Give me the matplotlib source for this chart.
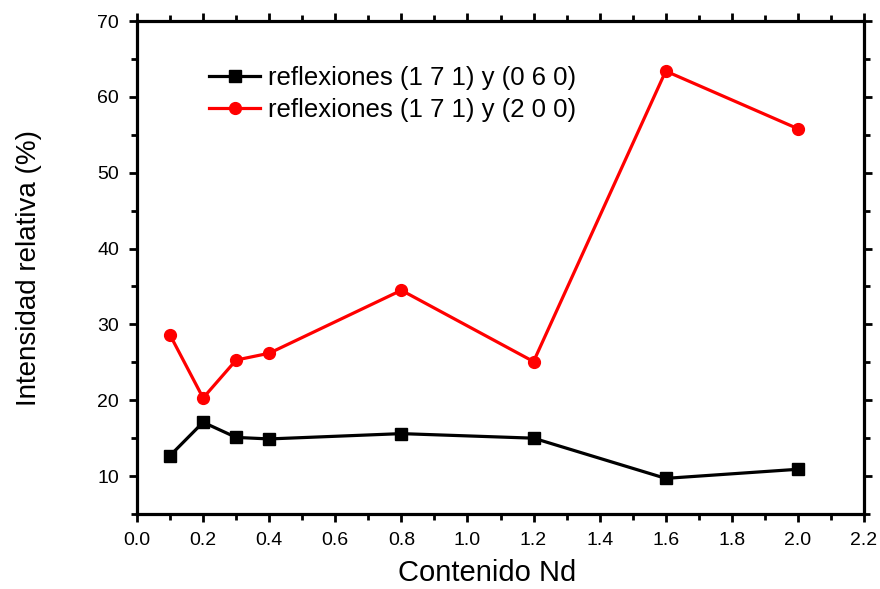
import matplotlib
matplotlib.use("Agg")
import matplotlib.pyplot as plt
from matplotlib.ticker import MultipleLocator

plt.rcParams['font.family'] = ['Liberation Sans', 'DejaVu Sans']

# contenido de Nd
nd = [0.1, 0.2, 0.3, 0.4, 0.8, 1.2, 1.6, 2.0]
# intensidad relativa (%)
i_060 = [12.7, 17.1, 15.1, 14.9, 15.6, 15.0, 9.7, 10.9]
i_200 = [28.6, 20.3, 25.3, 26.2, 34.5, 25.1, 63.4, 55.8]

lab_060 = "reflexiones (1 7 1) y (0 6 0)"
lab_200 = "reflexiones (1 7 1) y (2 0 0)"

fig = plt.figure(figsize=(8.8, 5.89), dpi=100)
ax = fig.add_axes([0.1557, 0.1273, 0.8261, 0.837])

ax.plot(nd, i_060, color='black', lw=2.3, marker='s', ms=8, label=lab_060)
ax.plot(nd, i_200, color='red', lw=2.3, marker='o', ms=8.5, label=lab_200)

ax.set_xlim(0, 2.2)
ax.set_ylim(5, 70)
ax.xaxis.set_major_locator(MultipleLocator(0.2))
ax.xaxis.set_minor_locator(MultipleLocator(0.1))
ax.yaxis.set_minor_locator(MultipleLocator(5))
ax.set_yticks([10, 20, 30, 40, 50, 60, 70])

for s in ax.spines.values():
    s.set_linewidth(2.3)
ax.tick_params(which='both', direction='out', top=True, right=True, width=2.0,
               labelsize=14)
ax.tick_params(which='major', length=6, pad=7)
ax.tick_params(which='minor', length=4)

ax.set_xlabel("Contenido Nd", fontsize=21)
ax.xaxis.set_label_coords(0.481, -0.092)
ax.set_ylabel("Intensidad relativa (%)", fontsize=20, labelpad=40)

ax.legend(loc='center left', bbox_to_anchor=(0.085, 0.852), frameon=False,
          fontsize=18.5, handlelength=2.0, handletextpad=0.3, labelspacing=0.3,
          borderaxespad=0)

fig.savefig("out.png", dpi=100)
